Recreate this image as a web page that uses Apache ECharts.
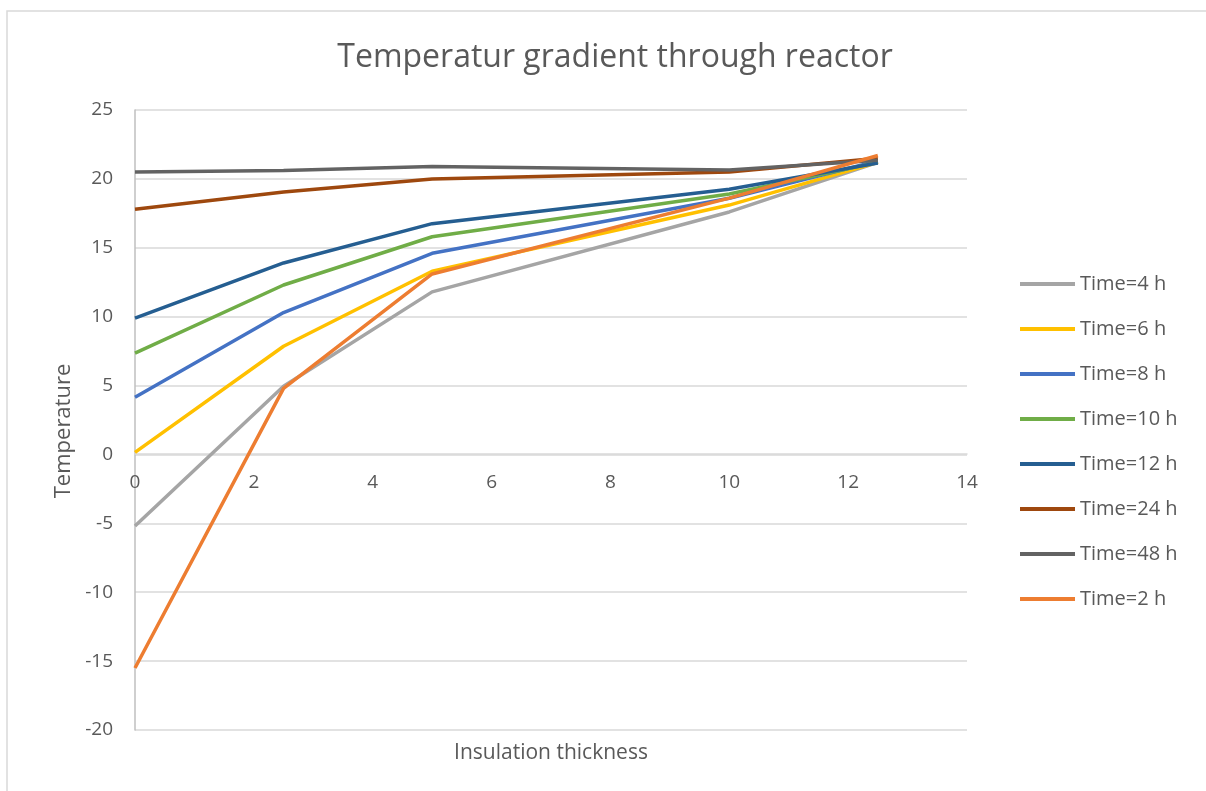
<!DOCTYPE html>
<html>
<head>
<meta charset="utf-8">
<script src="https://cdn.jsdelivr.net/npm/echarts@6/dist/echarts.min.js"></script>
<style>
  html, body { margin: 0; padding: 0; background: #fff; }
  #chart { width: 1206px; height: 791px; }
</style>
</head>
<body>
<div id="chart"></div>
<script>
  // insulation thickness positions
  var thickness = [0, 2.5, 5, 10, 12.5]

  var seriesNames = ['Time=4 h', 'Time=6 h', 'Time=8 h', 'Time=10 h', 'Time=12 h', 'Time=24 h', 'Time=48 h', 'Time=2 h']
  var seriesColors = ['#a5a5a5', '#ffc000', '#4472c4', '#70ad47', '#255e91', '#9e480e', '#636363', '#ed7d31']

  var t4 = [-5.2, 4.95, 11.8, 17.6, 21.2]
  var t6 = [0.15, 7.85, 13.3, 18.1, 21.2]
  var t8 = [4.15, 10.3, 14.6, 18.6, 21.3]
  var t10 = [7.35, 12.3, 15.8, 18.9, 21.2]
  var t12 = [9.9, 13.9, 16.75, 19.25, 21.15]
  var t24 = [17.8, 19.05, 20.0, 20.5, 21.5]
  var t48 = [20.5, 20.6, 20.9, 20.65, 21.35]
  var t2 = [-15.5, 4.8, 13.1, 18.6, 21.7]

  var allValues = [t4, t6, t8, t10, t12, t24, t48, t2]

  var chart = echarts.init(document.getElementById('chart'))

  var textColor = '#595959'
  var fontFam = '"Open Sans", "Noto Sans", sans-serif'

  var series = seriesNames.map(function (name, i) {
    return {
      name: name,
      type: 'line',
      showSymbol: false,
      symbol: 'none',
      lineStyle: { width: 3.5, color: seriesColors[i] },
      itemStyle: { color: seriesColors[i] },
      data: thickness.map(function (x, j) { return [x, allValues[i][j]] })
    }
  })

  chart.setOption({
    backgroundColor: '#fff',
    animation: false,
    textStyle: { fontFamily: fontFam },
    graphic: [{
      type: 'rect',
      shape: { x: 7, y: 11, width: 1400, height: 1000 },
      style: { fill: 'none', stroke: '#d9d9d9', lineWidth: 1.5 },
      silent: true,
      z: -10
    }],
    title: {
      text: 'Temperatur gradient through reactor',
      left: 610,
      textAlign: 'center',
      top: 37,
      textStyle: {
        fontFamily: fontFam,
        fontWeight: 'normal',
        fontSize: 32,
        color: textColor
      }
    },
    legend: {
      orient: 'vertical',
      left: 1015,
      top: 269,
      itemWidth: 55,
      itemHeight: 4,
      itemGap: 25,
      icon: 'rect',
      data: seriesNames,
      textStyle: { fontSize: 20, color: textColor, fontFamily: fontFam }
    },
    grid: {
      left: 135,
      right: 239,
      top: 110,
      bottom: 61,
      outerBoundsMode: 'none',
      containLabel: false
    },
    xAxis: {
      type: 'value',
      min: 0,
      max: 14,
      interval: 2,
      // axis sits on the zero line of the temperature scale
      offset: -276,
      name: 'Insulation thickness',
      nameLocation: 'middle',
      nameGap: 289,
      nameTextStyle: { fontSize: 21, color: textColor },
      axisLine: { onZero: false, lineStyle: { color: '#d9d9d9', width: 1.5 } },
      axisTick: { show: false },
      axisLabel: { fontSize: 19, color: textColor, margin: 19 },
      splitLine: { show: false }
    },
    yAxis: {
      type: 'value',
      min: -20,
      max: 25,
      interval: 5,
      name: 'Temperature',
      nameLocation: 'middle',
      nameGap: 59,
      nameRotate: 90,
      nameTextStyle: { fontSize: 22, color: textColor, padding: [0, 22, 0, 0] },
      axisLine: { show: true, lineStyle: { color: '#bfbfbf', width: 1.5 } },
      axisTick: { show: false },
      axisLabel: { fontSize: 19, color: textColor, margin: 22 },
      splitLine: { lineStyle: { color: '#d9d9d9', width: 1.5 } }
    },
    series: series
  })
</script>
</body>
</html>
